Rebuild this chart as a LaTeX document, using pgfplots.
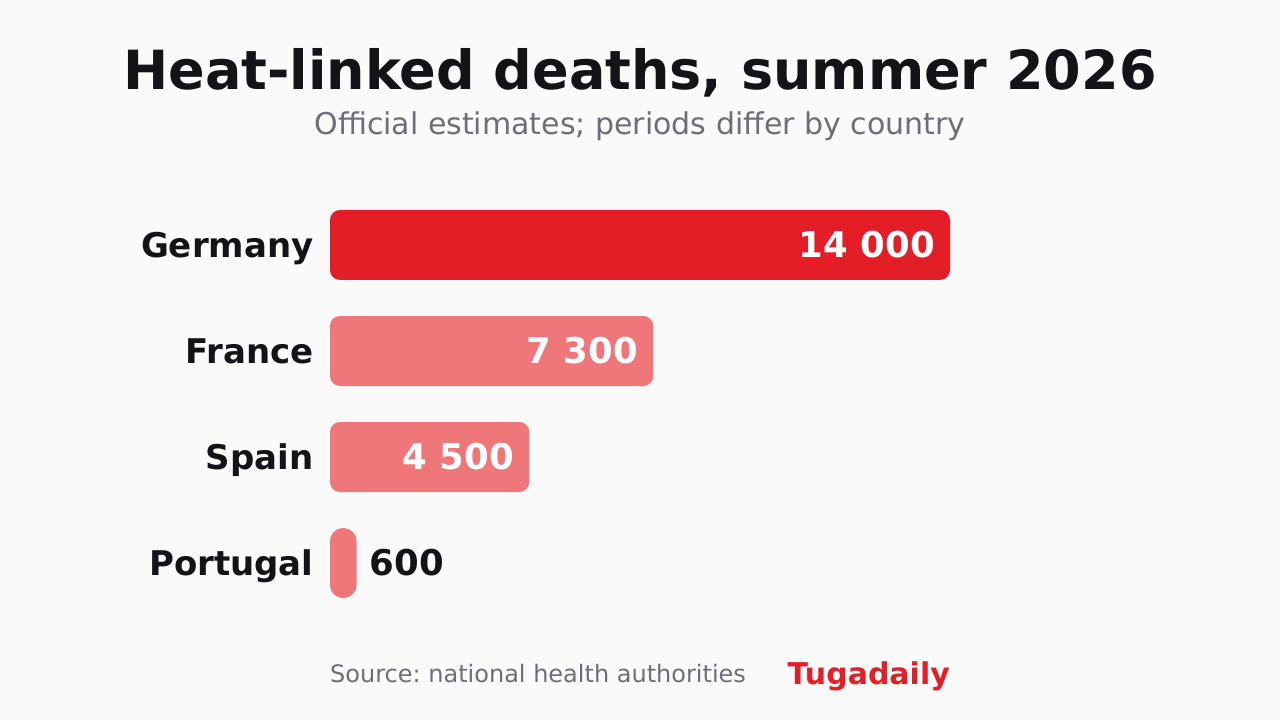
\documentclass[border=0pt]{standalone}
\usepackage{fontspec}
\setmainfont{DejaVu Sans}
\usepackage{pgfplots}
\pgfplotsset{compat=1.18}
\definecolor{bg}{HTML}{FAFAFA}
\definecolor{hred}{HTML}{E41E26}
\definecolor{lred}{HTML}{EF7679}
\definecolor{ink}{HTML}{141418}
\definecolor{muted}{HTML}{6E6E78}
\frenchspacing
\begin{document}
\begin{tikzpicture}
\path[fill=bg] (0pt,0pt) rectangle (1280pt,720pt);
\node[anchor=base, text=ink, inner sep=0pt, font=\fontsize{54}{60}\selectfont\bfseries] at (640pt,630pt) {Heat-linked deaths, summer 2026};
\node[anchor=base, text=muted, inner sep=0pt, font=\fontsize{30}{34}\selectfont] at (640pt,585pt) {Official estimates; periods differ by country};
\node[anchor=base west, text=muted, inner sep=0pt, font=\fontsize{24}{28}\selectfont] at (330pt,37pt) {Source: national health authorities};
\node[anchor=base east, text=hred, inner sep=0pt, font=\fontsize{30}{34}\selectfont\bfseries] at (950pt,35pt) {Tugadaily};
\begin{axis}[
  at={(330pt,104pt)}, anchor=south west,
  scale only axis, width=620pt, height=424pt,
  xmin=0, xmax=14000, ymin=-0.5, ymax=3.5,
  y dir=reverse, clip=false,
  axis line style={draw=none}, tick style={draw=none},
  xtick=\empty,
  ytick={0,1,2,3},
  yticklabels={Germany,France,Spain,Portugal},
  yticklabel style={anchor=base east, inner sep=0pt, xshift=-12pt, yshift=-12.4pt, text=ink, font=\fontsize{34}{40}\selectfont\bfseries},
  xbar, bar width=70pt, bar shift=0pt,
  point meta=explicit symbolic,
  nodes near coords,
  every node near coord/.append style={inner sep=0pt, font=\fontsize{35.5}{40}\selectfont\bfseries},
]
\addplot[fill=hred, draw=none, rounded corners=10pt,
  every node near coord/.append style={anchor=base east, xshift=-15pt, yshift=-12.8pt, text=white}]
  coordinates {(14000,0) [14 000]};
\addplot[fill=lred, draw=none, rounded corners=10pt,
  every node near coord/.append style={anchor=base east, xshift=-15pt, yshift=-12.8pt, text=white}]
  coordinates {(7300,1) [7 300] (4500,2) [4 500]};
\addplot[fill=lred, draw=none, rounded corners=13pt,
  every node near coord/.append style={anchor=base west, xshift=13pt, yshift=-12.8pt, text=ink}]
  coordinates {(600,3) [600]};
\end{axis}
\end{tikzpicture}
\end{document}
